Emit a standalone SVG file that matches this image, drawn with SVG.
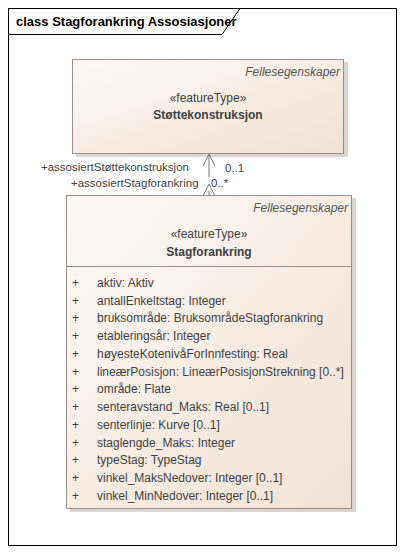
<svg xmlns="http://www.w3.org/2000/svg" width="404" height="554" viewBox="0 0 404 554">
<defs>
<linearGradient id="fill" x1="0" y1="0" x2="1" y2="1">
<stop offset="0" stop-color="#fcf9f7"/>
<stop offset="1" stop-color="#f2e1d3"/>
</linearGradient>
<style>
text{font-family:"Liberation Sans","DejaVu Sans",sans-serif;fill:#3f3f3f;font-size:12px}
.box{fill:url(#fill);stroke:#9a8c88;stroke-width:1}
.shadow{fill:#c9c4c2;opacity:0.7}
.pkg{font-style:italic;fill:#555;text-anchor:end}
.st{text-anchor:middle}
.nm{text-anchor:middle;font-weight:bold}
.lbl{font-size:11.5px}
.conn{fill:none;stroke:#7a7a7a;stroke-width:1}
</style>
</defs>
<rect x="0" y="0" width="404" height="554" fill="#ffffff"/>
<g id="frame">
<rect x="8.5" y="8.5" width="388" height="537" fill="none" stroke="#000" stroke-width="1"/>
<path d="M8.5 34.5 H222 L240 8.5" fill="none" stroke="#000" stroke-width="1"/>
<text x="16" y="26" style="font-weight:bold;font-size:13px;fill:#000">class Stagforankring Assosiasjoner</text>
</g>
<g id="Stottekonstruksjon">
<rect class="shadow" x="76" y="62" width="272" height="95"/>
<rect class="box" x="72.5" y="59.5" width="271" height="94"/>
<text class="pkg" x="340" y="76">Fellesegenskaper</text>
<text class="st" x="208" y="102">«featureType»</text>
<text class="nm" x="208" y="119">Støttekonstruksjon</text>
</g>
<g id="Stagforankring">
<rect class="shadow" x="70" y="198" width="286" height="314"/>
<rect class="box" x="66.5" y="195.5" width="285" height="313"/>
<line x1="66.5" y1="266.5" x2="351.5" y2="266.5" stroke="#9a8c88"/>
<text class="pkg" x="348" y="212">Fellesegenskaper</text>
<text class="st" x="209" y="238">«featureType»</text>
<text class="nm" x="209" y="256">Stagforankring</text>
<g>
<text x="72" y="287">+</text><text x="97" y="287">aktiv: Aktiv</text>
<text x="72" y="305">+</text><text x="97" y="305">antallEnkeltstag: Integer</text>
<text x="72" y="322">+</text><text x="97" y="322">bruksområde: BruksområdeStagforankring</text>
<text x="72" y="340">+</text><text x="97" y="340">etableringsår: Integer</text>
<text x="72" y="358">+</text><text x="97" y="358">høyesteKotenivåForInnfesting: Real</text>
<text x="72" y="376">+</text><text x="97" y="376">lineærPosisjon: LineærPosisjonStrekning [0..*]</text>
<text x="72" y="393">+</text><text x="97" y="393">område: Flate</text>
<text x="72" y="411">+</text><text x="97" y="411">senteravstand_Maks: Real [0..1]</text>
<text x="72" y="429">+</text><text x="97" y="429">senterlinje: Kurve [0..1]</text>
<text x="72" y="447">+</text><text x="97" y="447">staglengde_Maks: Integer</text>
<text x="72" y="464">+</text><text x="97" y="464">typeStag: TypeStag</text>
<text x="72" y="482">+</text><text x="97" y="482">vinkel_MaksNedover: Integer [0..1]</text>
<text x="72" y="500">+</text><text x="97" y="500">vinkel_MinNedover: Integer [0..1]</text>
</g>
</g>
<g id="connectors">
<line class="conn" x1="209" y1="154" x2="209" y2="195"/>
<text class="lbl" x="41" y="171">+assosiertStøttekonstruksjon</text>
<text class="lbl" x="225" y="172">0..1</text>
<rect x="70" y="177" width="160" height="14" fill="#ffffff"/>
<text class="lbl" x="71" y="187">+assosiertStagforankring</text>
<text class="lbl" x="211" y="187">0..*</text>
<path class="conn" d="M203 166 L209 154 L215 166"/>
<path class="conn" d="M203 196 L209 184 L215 196"/>
</g>
</svg>
